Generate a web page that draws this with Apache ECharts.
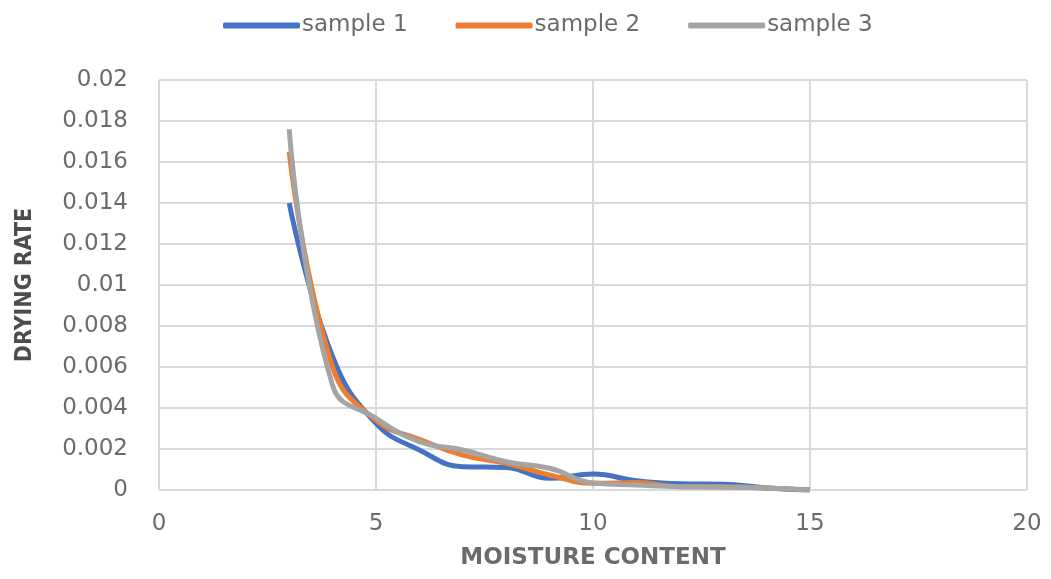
<!DOCTYPE html>
<html>
<head>
<meta charset="utf-8">
<title>Drying rate vs moisture content</title>
<script src="https://cdn.jsdelivr.net/npm/echarts@6/dist/echarts.min.js"></script>
<style>
  html, body { margin: 0; padding: 0; background: #fff; }
  #box { width: 1051px; height: 579px; }
</style>
</head>
<body>
<div id="box"></div>
<script>
// moisture content (x)
var moisture = [3, 4, 5, 6, 7, 8, 9, 10, 11, 12, 13, 14, 15]
// drying rate per sample
var sample1 = [0.014, 0.0065, 0.00325, 0.00195, 0.00114, 0.0011, 0.00057, 0.00078, 0.00045, 0.0003, 0.00028, 0.0001, 0]
var sample2 = [0.0165, 0.006, 0.0034, 0.00247, 0.0017, 0.0013, 0.00073, 0.00033, 0.00036, 0.00016, 0.00015, 0.0001, 0]
var sample3 = [0.0176, 0.0051, 0.0035, 0.00236, 0.00195, 0.00138, 0.00106, 0.00034, 0.00024, 0.00016, 0.00015, 0.0001, 0]
var names = ['sample 1', 'sample 2', 'sample 3']
var colors = ['#4472C4', '#ED7D31', '#A5A5A5']

function pairs(ys) {
  return moisture.map(function (x, i) { return [x, ys[i]] })
}

var myChart = echarts.init(document.getElementById('box'))

var textColor = '#6b6b6b'
var gridColor = '#d9d9d9'
var font = 'DejaVu Sans'

myChart.setOption({
  animation: false,
  color: colors,
  legend: {
    top: 9,
    left: 218,
    itemWidth: 77,
    itemHeight: 6,
    itemGap: 48,
    icon: 'roundRect',
    textStyle: { color: textColor, fontSize: 23, fontFamily: font, padding: [0, 0, 0, -3] },
    data: names
  },
  grid: { left: 159, right: 24, top: 80, bottom: 89 },
  xAxis: {
    type: 'value',
    min: 0,
    max: 20,
    interval: 5,
    name: 'MOISTURE CONTENT',
    nameLocation: 'middle',
    nameGap: 57,
    nameTextStyle: { color: textColor, fontSize: 23, fontWeight: 'bold', fontFamily: font },
    axisLine: { show: false },
    axisTick: { show: false },
    axisLabel: { color: textColor, fontSize: 23, margin: 23, fontFamily: font },
    splitLine: { show: true, lineStyle: { color: gridColor, width: 2 } }
  },
  yAxis: {
    type: 'value',
    min: 0,
    max: 0.02,
    interval: 0.002,
    name: 'DRYING RATE',
    nameLocation: 'middle',
    nameGap: 122,
    nameTextStyle: {
      color: '#4d4d4d',
      fontSize: 23,
      fontWeight: 'bold',
      fontFamily: "'DejaVu Sans Condensed', 'DejaVu Sans'"
    },
    axisLine: { show: false },
    axisTick: { show: false },
    axisLabel: {
      color: textColor,
      fontSize: 23,
      margin: 31,
      fontFamily: font,
      formatter: function (v) { return String(parseFloat(v.toFixed(4))) }
    },
    splitLine: { show: true, lineStyle: { color: gridColor, width: 2 } }
  },
  series: [sample1, sample2, sample3].map(function (ys, i) {
    return {
      name: names[i],
      type: 'line',
      smooth: 0.45,
      showSymbol: false,
      lineStyle: { width: 5, color: colors[i] },
      data: pairs(ys)
    }
  })
})

window.addEventListener('resize', function () {
  myChart.resize()
})
</script>
</body>
</html>
